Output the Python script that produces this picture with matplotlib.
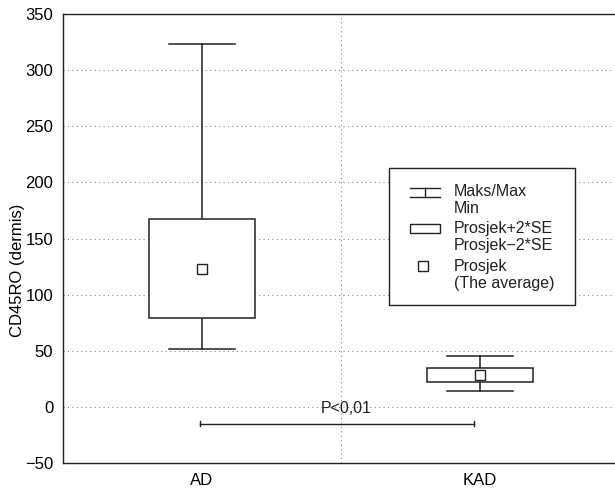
import matplotlib
matplotlib.use("Agg")
import matplotlib.pyplot as plt
from matplotlib.patches import Rectangle

plt.rcParams['font.family'] = ['Liberation Sans', 'DejaVu Sans']

categories = ["AD", "KAD"]
maxima = [323, 45]
minima = [52, 14.5]
upper_se = [167, 35]
lower_se = [79, 22.5]
means = [123, 28.5]
p_text = "P<0,01"
p_level = -15
ylabel = "CD45RO (dermis)"
yticks = [-50, 0, 50, 100, 150, 200, 250, 300, 350]

FS = 12

fig = plt.figure(figsize=(6.15, 4.9), dpi=100)
ax = fig.add_axes([0.1024, 0.0551, 0.904, 0.9163])
ax.set_xlim(0, 2)
ax.set_ylim(-50, 350)

col = '#222222'
xpos = [0.5, 1.5]
box_w = 0.38
cap_w = 0.24

# grid
for y in yticks[1:-1]:
    ax.axhline(y, color='#888888', lw=0.8, ls=(0, (1, 3)), zorder=0)
ax.axvline(1, color='#888888', lw=0.8, ls=(0, (1, 3)), zorder=0)

for x, mx, mn, up, lo, m in zip(xpos, maxima, minima, upper_se, lower_se, means):
    ax.plot([x, x], [up, mx], color=col, lw=1.1, zorder=2)
    ax.plot([x, x], [mn, lo], color=col, lw=1.1, zorder=2)
    ax.plot([x - cap_w / 2, x + cap_w / 2], [mx, mx], color=col, lw=1.1, zorder=2)
    ax.plot([x - cap_w / 2, x + cap_w / 2], [mn, mn], color=col, lw=1.1, zorder=2)
    ax.add_patch(Rectangle((x - box_w / 2, lo), box_w, up - lo, facecolor='white',
                           edgecolor=col, lw=1.1, zorder=3))
    ax.plot([x], [m], marker='s', ms=6.5, mfc='white', mec=col, mew=1.0, zorder=4)

# p-value bar
px0, px1 = 0.493, 1.478
ax.plot([px0, px1], [p_level, p_level], color=col, lw=1.0, zorder=2)
for px in (px0, px1):
    ax.plot([px, px], [p_level - 2, p_level + 2], color=col, lw=1.0, zorder=2)
ax.text(1.02, p_level + 7, p_text, ha='center', va='bottom', fontsize=11.5, color=col, zorder=5)

ax.set_xticks(xpos)
ax.set_xticklabels(categories, fontsize=FS)
ax.set_yticks(yticks)
ax.set_yticklabels([str(t).replace('-', '\u2212') for t in yticks], fontsize=FS)
ax.tick_params(axis='both', length=0, pad=7)
ax.tick_params(axis='x', pad=7)
ax.set_ylabel(ylabel, fontsize=FS)
ax.yaxis.set_label_coords(-0.068, 0.43)
for s in ax.spines.values():
    s.set_color(col)
    s.set_linewidth(1.0)

# legend (drawn manually, axes fraction coordinates)
T = ax.transAxes
ax.add_patch(Rectangle((0.586, 0.352), 0.335, 0.305, transform=T, facecolor='white',
                       edgecolor=col, lw=1.0, zorder=6))
def fx(px):
    return (px - 63) / 556
def fy(py):
    return (463 - py) / 449
# I-beam symbol
ax.plot([fx(410), fx(440)], [fy(188), fy(188)], transform=T, color=col, lw=1.0, zorder=7)
ax.plot([fx(410), fx(440)], [fy(197), fy(197)], transform=T, color=col, lw=1.0, zorder=7)
ax.plot([fx(425), fx(425)], [fy(188), fy(197)], transform=T, color=col, lw=1.0, zorder=7)
ax.add_patch(Rectangle((fx(410), fy(233)), fx(440) - fx(410), fy(224) - fy(233), transform=T,
                       facecolor='white', edgecolor=col, lw=1.0, zorder=7))
ax.plot([fx(423)], [fy(266)], transform=T, marker='s', ms=7.5, mfc='white', mec=col, mew=1.0, zorder=7)
labels = [("Maks/Max", 191), ("Min", 208), ("Prosjek+2*SE", 228), ("Prosjek\u22122*SE", 245),
          ("Prosjek", 266), ("(The average)", 283)]
for t, py in labels:
    ax.text(fx(454), fy(py), t, transform=T, ha='left', va='center', fontsize=11.5, color=col, zorder=8)

fig.savefig("out.png", dpi=100)
